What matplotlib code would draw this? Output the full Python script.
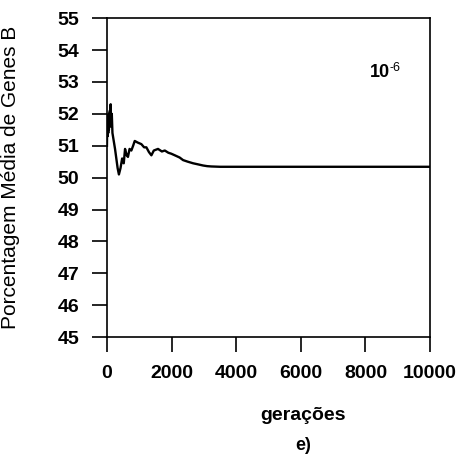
import matplotlib.pyplot as plt

# geracoes x porcentagem media de genes B
geracoes = [0, 10, 20, 30, 40, 50, 60, 70, 80, 90, 100, 115, 130, 150, 170,
            250, 330, 370, 420, 470, 520, 560, 610, 650, 700, 755, 810, 860,
            950, 1065, 1150, 1220, 1300, 1375, 1450, 1580, 1700, 1790, 1900,
            1990, 2100, 2250, 2355, 2500, 2665, 2800, 2975, 3100, 3230, 3500,
            4000, 5000, 6000, 7000, 8000, 9000, 10000]
genes_b = [51.0, 51.8, 51.3, 51.9, 51.4, 52.0, 51.5, 51.9, 51.6, 52.1, 51.8,
           52.3, 51.6, 52.0, 51.4, 50.9, 50.3, 50.1, 50.3, 50.6, 50.45, 50.9,
           50.7, 50.65, 50.9, 50.85, 51.0, 51.15, 51.1, 51.05, 50.95, 50.95,
           50.8, 50.7, 50.85, 50.9, 50.82, 50.85, 50.78, 50.75, 50.7, 50.63,
           50.55, 50.5, 50.45, 50.42, 50.38, 50.36, 50.35, 50.34, 50.34,
           50.34, 50.34, 50.34, 50.34, 50.34, 50.34]

xticks = [0, 2000, 4000, 6000, 8000, 10000]
yticks = list(range(45, 56))

plt.rcParams['font.family'] = ['Liberation Sans', 'DejaVu Sans']

fig = plt.figure(figsize=(4.65, 4.65), dpi=100)
ax = fig.add_axes([0.230, 0.275, 0.695, 0.686])

ax.plot(geracoes, genes_b, color='black', lw=1.7)

ax.set_xlim(0, 10000)
ax.set_ylim(45, 55)
ax.set_xticks(xticks)
ax.set_yticks(yticks)
ax.tick_params(direction='out', length=11, width=1.2, labelsize=14, pad=9)
for lab in ax.get_xticklabels() + ax.get_yticklabels():
    lab.set_fontweight('bold')
for s in ax.spines.values():
    s.set_linewidth(1.2)

# "10^-6" annotation
ax.text(8450, 53.3, '10', fontsize=13, fontweight='bold', ha='center', va='center')
ax.text(8730, 53.45, '-6', fontsize=9, ha='left', va='center')

ax.set_ylabel('Porcentagem Média de Genes B', fontsize=15)
ax.yaxis.set_label_coords(-0.27, 0.5)

fig.text(303 / 465, 1 - 415 / 465, 'gerações', fontsize=14, fontweight='bold',
         ha='center', va='center')
fig.text(303 / 465, 1 - 445 / 465, 'e)', fontsize=13, fontweight='bold',
         ha='center', va='center')

fig.savefig('out.png', dpi=100)
